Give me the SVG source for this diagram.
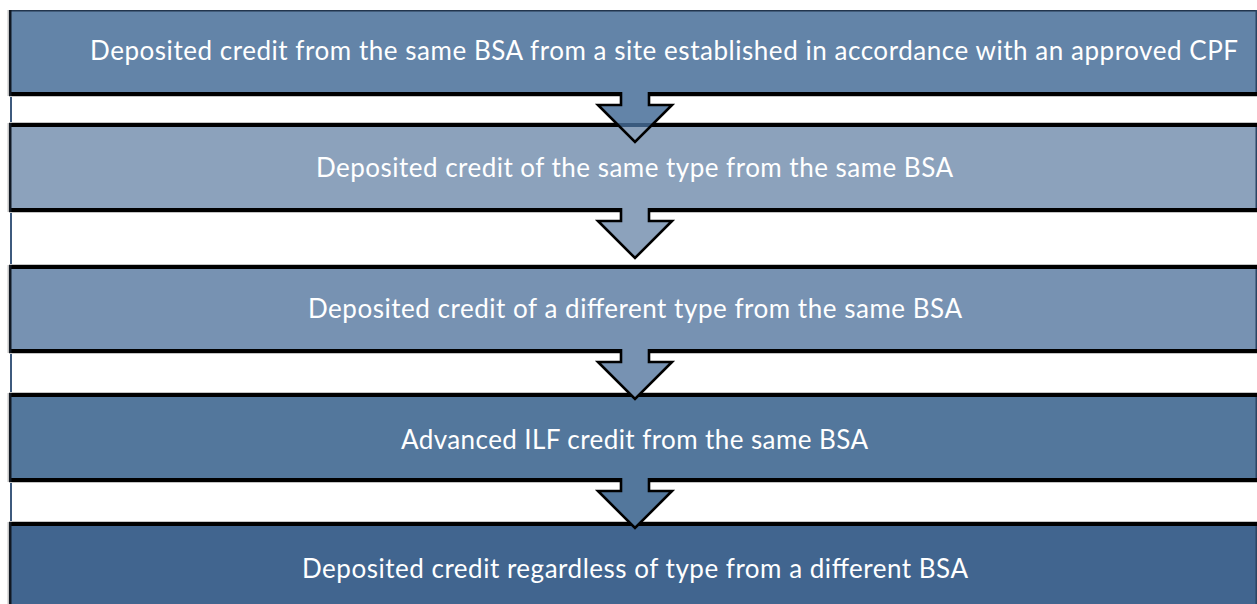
<svg xmlns="http://www.w3.org/2000/svg" width="1257" height="604" viewBox="0 0 1257 604">
<style>
.lbl{font-family:Lato,"Open Sans","Liberation Sans",sans-serif;font-size:26px;fill:#ffffff;text-anchor:middle}
.band{fill:#000000}
.shadow{fill:#c4c4c4}
.edgeL{fill:#111822}
.edgeR{fill:#2c4463}
.aout{fill:none;stroke:#000000;stroke-width:2.6;stroke-linejoin:miter}
</style>
<defs>
<clipPath id="ac" clipPathUnits="userSpaceOnUse">
<path d="M-14,0 L-14,13 L-37,13 L0,50 L37,13 L14,13 L14,0 Z"/>
</clipPath>
</defs>
<rect x="0" y="0" width="1257" height="604" fill="#ffffff"/>
<rect x="10" y="10" width="2" height="594" fill="#3e5a7e"/>

<g id="n1">
<rect x="9" y="10" width="1248" height="82" fill="#6384a8"/>
<rect x="9" y="10" width="1248" height="1.5" fill="#22354d"/>
<rect class="band" x="9" y="92" width="1248" height="4"/>
<rect class="shadow" x="9" y="96" width="1248" height="1"/>
<rect class="shadow" x="7.5" y="10" width="1.5" height="86"/>
<rect class="edgeL" x="9" y="10" width="2.5" height="86"/>
<rect class="edgeR" x="1255.5" y="10" width="1.5" height="82"/>
<text class="lbl" x="664" y="60" textLength="1148" lengthAdjust="spacing">Deposited credit from the same BSA from a site established in accordance with an approved CPF</text>
</g>

<g id="n2">
<rect class="shadow" x="9" y="122" width="1248" height="1"/>
<rect x="9" y="127" width="1248" height="81" fill="#8ca2bc"/>
<rect class="band" x="9" y="123" width="1248" height="4"/>
<rect class="band" x="9" y="208" width="1248" height="4"/>
<rect class="shadow" x="9" y="212" width="1248" height="1"/>
<rect class="shadow" x="7.5" y="123" width="1.5" height="89"/>
<rect class="edgeL" x="9" y="123" width="2.5" height="89"/>
<rect class="edgeR" x="1255.5" y="127" width="1.5" height="81"/>
<text class="lbl" x="634.5" y="177" textLength="637" lengthAdjust="spacing">Deposited credit of the same type from the same BSA</text>
</g>

<g id="n3">
<rect class="shadow" x="9" y="264" width="1248" height="1"/>
<rect x="9" y="269" width="1248" height="80" fill="#7792b2"/>
<rect class="band" x="9" y="265" width="1248" height="4"/>
<rect class="band" x="9" y="349" width="1248" height="4"/>
<rect class="shadow" x="9" y="353" width="1248" height="1"/>
<rect class="shadow" x="7.5" y="265" width="1.5" height="88"/>
<rect class="edgeL" x="9" y="265" width="2.5" height="88"/>
<rect class="edgeR" x="1255.5" y="269" width="1.5" height="80"/>
<text class="lbl" x="635" y="318" textLength="654" lengthAdjust="spacing">Deposited credit of a different type from the same BSA</text>
</g>

<g id="n4">
<rect class="shadow" x="9" y="392" width="1248" height="1"/>
<rect x="9" y="397" width="1248" height="81" fill="#53779c"/>
<rect class="band" x="9" y="393" width="1248" height="4"/>
<rect class="band" x="9" y="478" width="1248" height="4"/>
<rect class="shadow" x="9" y="482" width="1248" height="1"/>
<rect class="shadow" x="7.5" y="393" width="1.5" height="89"/>
<rect class="edgeL" x="9" y="393" width="2.5" height="89"/>
<rect class="edgeR" x="1255.5" y="397" width="1.5" height="81"/>
<text class="lbl" x="634.5" y="449" textLength="467" lengthAdjust="spacing">Advanced ILF credit from the same BSA</text>
</g>

<g id="n5">
<rect class="shadow" x="9" y="521" width="1248" height="1"/>
<rect x="9" y="526" width="1248" height="78" fill="#41658f"/>
<rect class="band" x="9" y="522" width="1248" height="4"/>
<rect class="shadow" x="7.5" y="522" width="1.5" height="82"/>
<rect class="edgeL" x="9" y="522" width="2.5" height="82"/>
<rect class="edgeR" x="1255.5" y="526" width="1.5" height="78"/>
<text class="lbl" x="635" y="578" textLength="666" lengthAdjust="spacing">Deposited credit regardless of type from a different BSA</text>
</g>

<g id="connectors">
<g transform="translate(635,92)">
<path d="M-14,0 L-14,13 L-37,13 L0,50 L37,13 L14,13 L14,0 Z" fill="#6384a8"/>
<g clip-path="url(#ac)">
<rect x="-40" y="31" width="80" height="30" fill="#8ca2bc"/>
<rect x="-40" y="31" width="80" height="4" fill="#3a5a7e"/>
</g>
<path class="aout" d="M-14,0 L-14,13 L-37,13 L0,50 L37,13 L14,13 L14,0"/>
</g>
<g transform="translate(635,208)">
<path d="M-14,0 L-14,13 L-37,13 L0,50 L37,13 L14,13 L14,0 Z" fill="#8ca2bc"/>
<path class="aout" d="M-14,0 L-14,13 L-37,13 L0,50 L37,13 L14,13 L14,0"/>
</g>
<g transform="translate(635,349)">
<path d="M-14,0 L-14,13 L-37,13 L0,50 L37,13 L14,13 L14,0 Z" fill="#7792b2"/>
<path class="aout" d="M-14,0 L-14,13 L-37,13 L0,50 L37,13 L14,13 L14,0"/>
</g>
<g transform="translate(635,478)">
<path d="M-14,0 L-14,13 L-37,13 L0,50 L37,13 L14,13 L14,0 Z" fill="#53779c"/>
<path class="aout" d="M-14,0 L-14,13 L-37,13 L0,50 L37,13 L14,13 L14,0"/>
</g>
</g>
</svg>
